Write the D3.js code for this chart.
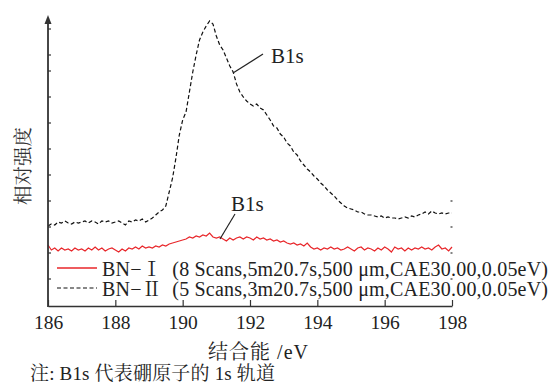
<!DOCTYPE html>
<html><head><meta charset="utf-8">
<script src="https://cdn.jsdelivr.net/npm/d3@7"></script>
<style>body{margin:0;background:#fff;}</style></head>
<body><svg id="c" width="551" height="389"></svg>
<script>
// binding energy grid (eV), step 0.1
const energyStart = 186, energyStep = 0.1;
// BN-II intensity (a.u.)
const bn2 = [
 80,82,81,84,83,85,83,82,84,83,
 84,85,83,85,84,82,85,84,85,83,
 84,85,83,81,85,84,86,85,87,84,
 86,88,91,94,96,100,114,128,148,171,
 186,194,214,234,251,266,274,280,285,282,
 270,261,256,248,240,234,222,214,209,205,
 202,200,202,198,196,191,186,180,178,172,
 169,163,160,154,151,145,141,137,134,130,
 127,123,120,116,113,110,106,103,100,98,
 97,96,94,94,92,91,91,90,89,90,
 88,89,88,88,87,88,89,88,90,89,
 91,92,94,92,95,93,92,93,92,93,
 93];
// BN-I intensity (a.u.)
const bn1 = [
 61,56,58,55,58,56,57,55,58,56,
 57,55,58,56,59,56,58,55,57,58,
 56,54,57,55,58,57,59,57,60,58,
 59,58,60,59,61,60,62,63,64,65,
 66,67,69,68,70,69,71,70,73,69,
 68,69,67,65,68,66,68,69,67,69,
 68,66,69,67,68,66,67,65,66,64,
 65,63,62,63,61,62,60,63,59,57,
 58,56,58,57,59,57,58,56,57,59,
 57,55,58,59,56,58,57,55,58,56,
 59,57,54,59,57,58,55,58,56,58,
 57,59,57,58,56,59,61,57,58,55,
 59];
const xTicks = [186,188,190,192,194,196,198];
const yTicksLeft = [27,53,79,105,131,157,183,209,235,251,277];
const yTicksRight = [27,53,79,105];
const legendLabels = ["BN−Ⅰ  (8 Scans,5m20.7s,500 μm,CAE30.00,0.05eV)",
                      "BN−Ⅱ  (5 Scans,3m20.7s,500 μm,CAE30.00,0.05eV)"];

const FONT = "'Liberation Serif','Noto Serif CJK SC',serif";
const svg = d3.select("#c");
const L = 48, R = 452, B = 306, T = 15;
const x = d3.scaleLinear().domain([186,198]).range([L,R]);
const y = d3.scaleLinear().domain([0,291]).range([B,T]);
const toPts = arr => arr.map((v,i)=>[energyStart + i*energyStep, v]);
const line = d3.line().x(d=>x(d[0])).y(d=>y(d[1]));

// series
svg.append("path").attr("d", line(toPts(bn1))).attr("fill","none")
  .attr("stroke","#e8262a").attr("stroke-width",1.2);
svg.append("path").attr("d", line(toPts(bn2))).attr("fill","none")
  .attr("stroke","#111").attr("stroke-width",1.2).attr("stroke-dasharray","4,2.5");

// x axis
const xa = svg.append("g").attr("transform",`translate(0,${B})`)
  .call(d3.axisBottom(x).tickValues(xTicks).tickFormat(d3.format("d")).tickSizeInner(-6).tickSizeOuter(0));
xa.select(".domain").attr("stroke","#333").attr("stroke-width",1.6);
xa.selectAll(".tick line").attr("stroke","#333").attr("stroke-width",1.2);
xa.selectAll(".tick text").attr("y",9).attr("fill","#222")
  .style("font-family",FONT).style("font-size","19.5px");

// y axis (left) with arrow
svg.append("line").attr("x1",L).attr("x2",L).attr("y1",B+1).attr("y2",T+4)
  .attr("stroke","#333").attr("stroke-width",1.8);
svg.append("path").attr("d",`M${L},${T} L${L-3.5},${T+9} L${L+3.5},${T+9} Z`).attr("fill","#333");
svg.selectAll(".yt").data(yTicksLeft).join("line")
  .attr("x1",L).attr("x2",L+3).attr("y1",d=>y(d)).attr("y2",d=>y(d))
  .attr("stroke","#333").attr("stroke-width",1.2);
svg.selectAll(".yr").data(yTicksRight).join("line")
  .attr("x1",R-1.5).attr("x2",R+0.5).attr("y1",d=>y(d)).attr("y2",d=>y(d))
  .attr("stroke","#333").attr("stroke-width",1.2);

function txt(xp, yp, size, s, anchor){
  return svg.append("text").attr("x",xp).attr("y",yp).attr("fill","#222")
    .attr("text-anchor",anchor||"start")
    .style("font-family",FONT).style("font-size",size+"px").text(s);
}
// annotations
svg.append("line").attr("x1",233).attr("y1",73).attr("x2",263).attr("y2",54)
  .attr("stroke","#222").attr("stroke-width",1.2);
txt(271,63,21,"B1s");
svg.append("line").attr("x1",220).attr("y1",239).attr("x2",235).attr("y2",214)
  .attr("stroke","#222").attr("stroke-width",1.2);
txt(231,211,21,"B1s");

// legend
svg.append("line").attr("x1",57).attr("x2",97).attr("y1",268).attr("y2",268)
  .attr("stroke","#e8262a").attr("stroke-width",1.3);
svg.append("line").attr("x1",57).attr("x2",97).attr("y1",288).attr("y2",288)
  .attr("stroke","#111").attr("stroke-width",1.2).attr("stroke-dasharray","4,2.5");
legendLabels.forEach((s,i)=>{
  txt(102,276+i*20,20,s).attr("textLength",446).attr("lengthAdjust","spacing")
    .style("white-space","pre");
});

// axis titles
svg.append("text").attr("transform","translate(30,166) rotate(-90)")
  .attr("text-anchor","middle").attr("fill","#333")
  .style("font-family",FONT).style("font-size","19.5px").text("相对强度");
txt(208,359,20,"结合能 /eV").attr("textLength",100).style("white-space","pre");
txt(30,380,19,"注: B1s 代表硼原子的 1s 轨道").attr("textLength",245);
</script></body></html>
